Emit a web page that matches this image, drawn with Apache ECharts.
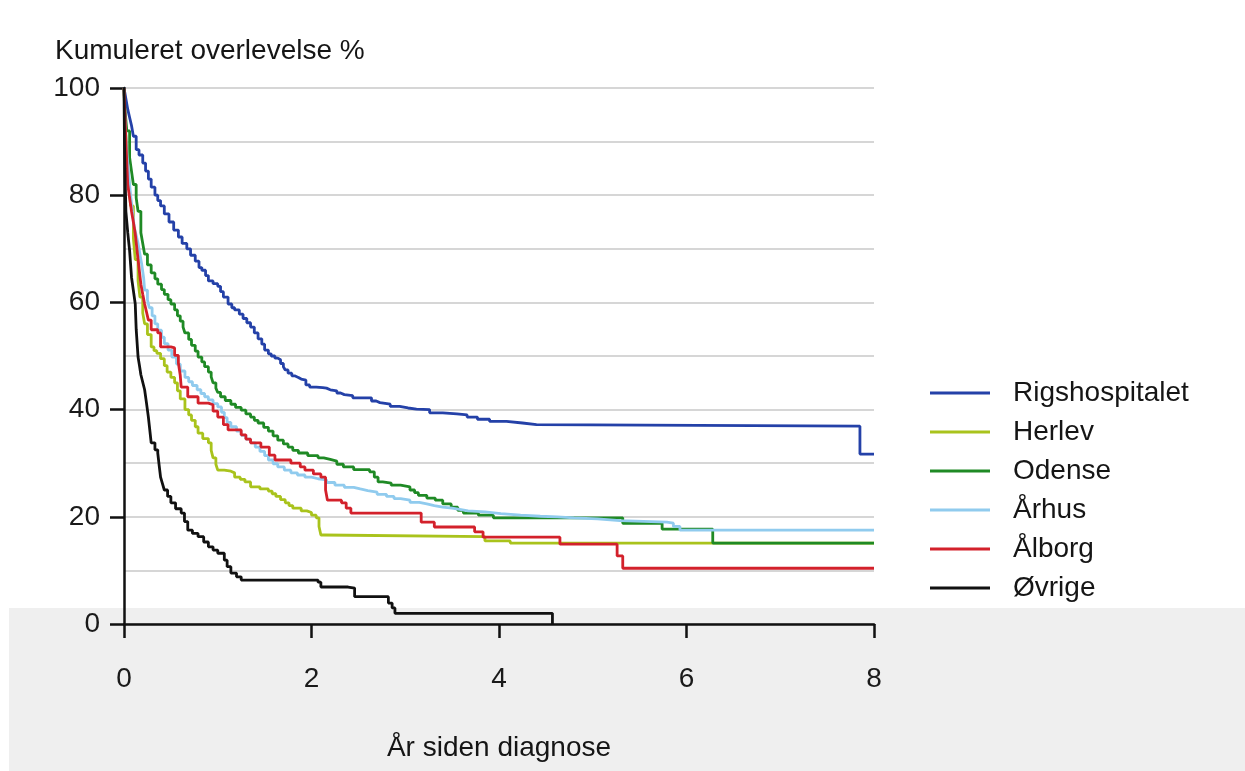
<!DOCTYPE html>
<html>
<head>
<meta charset="utf-8">
<script src="https://cdn.jsdelivr.net/npm/echarts@6/dist/echarts.min.js"></script>
<style>
  html, body { margin: 0; padding: 0; background: #ffffff; }
  #chart { width: 1245px; height: 771px; }
</style>
</head>
<body>
<div id="chart"></div>
<script>
// Kaplan–Meier survival per hospital: [years since diagnosis, cumulative survival %]
const seriesNames = ['Rigshospitalet', 'Herlev', 'Odense', 'Århus', 'Ålborg', 'Øvrige'];
const xTicks = [0, 2, 4, 6, 8];
const yTicks = [0, 20, 40, 60, 80, 100];

const rigshospitalet = [
  [0,100],[0.02,98],[0.04,96],[0.06,94.5],[0.08,93],[0.1,91],[0.13,88.5],[0.16,87.5],[0.2,86],
  [0.23,84.5],[0.26,83],[0.29,81.5],[0.33,80],[0.36,79],[0.39,78],[0.43,76.5],[0.48,75],[0.53,73.5],
  [0.58,72.2],[0.62,71],[0.67,70],[0.71,68.8],[0.76,67.7],[0.8,66.5],[0.83,66],[0.87,65],[0.9,64],
  [0.95,63.5],[1.0,63],[1.03,62],[1.06,61],[1.11,59.7],[1.15,59],[1.18,58.6],[1.23,57.8],[1.27,57],
  [1.31,56.2],[1.35,55.4],[1.39,54.3],[1.43,53.2],[1.47,52.2],[1.5,51.1],[1.54,50.4],[1.57,50],
  [1.61,49.6],[1.64,49.3],[1.67,48.6],[1.7,48],[1.72,47.4],[1.75,46.8],[1.79,46.3],[1.82,46],
  [1.86,45.7],[1.89,45.5],[1.94,44.6],[1.98,44.2],[2.05,44.1],[2.12,44],[2.16,43.7],[2.2,43.5],
  [2.27,43.1],[2.31,42.8],[2.35,42.6],[2.44,42.2],[2.64,41.6],[2.69,41.3],[2.73,41],[2.84,40.6],
  [2.94,40.3],[3.03,40.1],[3.12,40],[3.26,39.4],[3.4,39.2],[3.55,39],[3.66,38.6],[3.77,38.2],
  [3.9,37.8],[4.08,37.5],[4.25,37.2],[4.4,36.9],[7.85,31.7],[8,31.7]
];
const herlev = [
  [0,100],[0.01,94],[0.03,88],[0.05,83],[0.07,78],[0.1,72],[0.12,68],[0.15,64],[0.17,61],[0.2,58],
  [0.22,56],[0.25,54],[0.29,51.7],[0.32,51],[0.35,50.5],[0.39,49.5],[0.43,48.2],[0.46,47],[0.5,46],
  [0.54,45],[0.57,43.5],[0.6,42],[0.65,40],[0.69,39],[0.72,38],[0.76,36.8],[0.79,35.6],[0.84,34.6],
  [0.9,33.8],[0.93,32.4],[0.95,31],[0.98,29.8],[1.0,28.7],[1.07,28.5],[1.14,28.2],[1.18,27.4],
  [1.24,27],[1.29,26.5],[1.35,25.6],[1.45,25.2],[1.54,24.8],[1.58,24.3],[1.62,23.8],[1.67,23.2],
  [1.72,22.6],[1.76,22.1],[1.8,21.6],[1.89,21.1],[1.95,20.8],[2.0,20.3],[2.05,19.8],[2.08,18.2],
  [2.1,16.6],[2.13,16.3],[3.85,15.5],[4.12,15.1],[8,15.1]
];
const odense = [
  [0,100],[0.01,96],[0.03,92],[0.06,87],[0.08,84.5],[0.1,82],[0.13,79.5],[0.15,77],[0.18,73],
  [0.2,71],[0.22,69],[0.25,67],[0.29,65.5],[0.33,64.4],[0.36,63.4],[0.4,62.4],[0.43,61.5],
  [0.47,60.5],[0.5,59.7],[0.54,58.6],[0.57,57.5],[0.6,56.5],[0.63,55.4],[0.65,54.3],[0.69,53.1],
  [0.72,52],[0.76,50.9],[0.79,49.8],[0.83,48.9],[0.86,48],[0.9,47],[0.93,46.1],[0.95,45],[0.98,44],
  [1.0,43.2],[1.03,42.4],[1.08,41.7],[1.14,41],[1.19,40.4],[1.25,39.9],[1.3,39.2],[1.35,38.6],
  [1.39,38],[1.43,37.5],[1.49,36.7],[1.54,36],[1.59,35.1],[1.64,34.3],[1.7,33.6],[1.75,33],
  [1.8,32.4],[1.86,31.9],[1.96,31.4],[2.07,31],[2.13,30.7],[2.2,30.4],[2.27,29.8],[2.34,29.3],
  [2.45,28.8],[2.62,28.4],[2.67,27.4],[2.71,26.5],[2.76,26.3],[2.85,25.9],[2.95,25.6],[3.05,25],
  [3.1,24.5],[3.14,24],[3.23,23.5],[3.32,23.1],[3.4,22.4],[3.49,21.8],[3.56,21.2],[3.62,20.7],
  [3.78,20.3],[3.94,19.8],[5.32,18.8],[5.74,17.7],[6.28,15.1],[8,15.1]
];
const aarhus = [
  [0,100],[0.01,94],[0.03,88],[0.05,84],[0.07,80],[0.09,77],[0.11,74],[0.13,72.5],[0.15,71],
  [0.17,69],[0.19,67],[0.21,64.5],[0.22,62.3],[0.25,60.5],[0.27,59],[0.3,57.5],[0.33,56],
  [0.36,54.8],[0.4,53.5],[0.43,52.3],[0.47,51.1],[0.51,49.8],[0.56,48.5],[0.6,47.2],[0.65,46],
  [0.69,45.2],[0.73,44.5],[0.78,43.7],[0.82,43],[0.86,42.4],[0.9,41.8],[0.95,41.1],[1.0,40.5],
  [1.04,39.5],[1.07,38.5],[1.1,37.6],[1.14,36.8],[1.2,36],[1.25,35.2],[1.3,34.5],[1.35,33.8],
  [1.4,33],[1.45,32.2],[1.5,31.4],[1.54,30.6],[1.59,29.9],[1.64,29.3],[1.71,28.7],[1.78,28.2],
  [1.85,27.8],[1.93,27.4],[2.0,27.1],[2.07,26.9],[2.16,26.4],[2.25,25.9],[2.35,25.5],[2.45,25.2],
  [2.52,24.9],[2.6,24.6],[2.7,24.2],[2.8,23.8],[2.88,23.4],[2.95,23.1],[3.05,22.7],[3.15,22.4],
  [3.23,22.1],[3.31,21.8],[3.4,21.6],[3.5,21.4],[3.58,21.1],[3.67,20.9],[3.85,20.6],[4.02,20.3],
  [4.23,20.1],[4.44,20],[4.62,19.8],[4.8,19.6],[5.05,19.3],[5.29,19],[5.79,18.8],[5.86,18.2],
  [5.93,17.5],[8,17.5]
];
const aalborg = [
  [0,100],[0.01,95],[0.02,90],[0.03,86],[0.04,82],[0.06,79.5],[0.08,77],[0.1,75],[0.12,72.8],
  [0.135,70.4],[0.15,68],[0.165,65.7],[0.18,63.4],[0.2,61.5],[0.22,59.7],[0.24,58.2],[0.26,56.7],
  [0.29,54.9],[0.36,54.3],[0.39,51.7],[0.5,51.5],[0.54,50.1],[0.58,48.7],[0.6,46.4],[0.61,44.2],
  [0.68,42.4],[0.79,41.2],[0.9,40.9],[0.95,39.7],[1.0,38.6],[1.06,37.2],[1.11,36.2],[1.25,35.3],
  [1.3,34.5],[1.35,33.8],[1.46,33],[1.55,31.5],[1.61,30.6],[1.78,30],[1.88,29.3],[1.93,28.7],
  [2.02,28],[2.1,27.4],[2.15,25],[2.17,23.1],[2.32,22.6],[2.37,21.6],[2.42,20.7],[3.17,19],
  [3.31,18.1],[3.74,17.2],[3.83,16.2],[4.65,14.9],[5.26,12.7],[5.32,10.4],[8,10.4]
];
const oevrige = [
  [0,100],[0.005,90],[0.01,85],[0.015,81],[0.02,77],[0.03,75],[0.04,73],[0.05,71.3],[0.06,69.6],
  [0.07,67.2],[0.08,64.7],[0.1,62.2],[0.12,59.7],[0.13,55],[0.14,52.4],[0.15,49.8],[0.165,48.2],
  [0.18,46.5],[0.2,45.1],[0.22,43.7],[0.24,41.2],[0.26,38.6],[0.275,36.2],[0.29,33.8],[0.33,32.5],
  [0.36,31.9],[0.375,29.6],[0.39,27.4],[0.41,26.2],[0.43,25],[0.465,23.8],[0.5,22.6],[0.55,21.5],
  [0.61,20.7],[0.645,19.1],[0.68,17.5],[0.73,16.9],[0.79,16.3],[0.85,15.3],[0.9,14.4],[0.95,13.8],
  [1.0,13.2],[1.07,11.9],[1.1,10.7],[1.14,9.5],[1.2,8.8],[1.25,8.2],[2.07,7.8],[2.1,6.9],
  [2.39,6.7],[2.46,5.1],[2.82,3.9],[2.86,3.0],[2.89,2.0],[4.57,0]
];

const seriesData = [rigshospitalet, herlev, odense, aarhus, aalborg, oevrige];
const seriesColors = ['#2441a8', '#a9c31c', '#1f8a25', '#90cbee', '#d3212b', '#111111'];

const FONT = "'Liberation Sans', Arial, sans-serif";
const FS = 28;

const chart = echarts.init(document.getElementById('chart'), null, { renderer: 'canvas' });

chart.setOption({
  backgroundColor: '#ffffff',
  animation: false,
  title: {
    text: 'Kumuleret overlevelse %',
    left: 50,
    top: 32,
    textStyle: { fontFamily: FONT, fontSize: FS, fontWeight: 'normal', color: '#151515' }
  },
  graphic: {
    elements: [{
      type: 'rect',
      z: -100,
      left: 9,
      top: 608,
      shape: { width: 1236, height: 163 },
      style: { fill: '#efefef' },
      silent: true
    }]
  },
  legend: {
    orient: 'vertical',
    left: 925,
    top: 373,
    icon: 'rect',
    itemWidth: 60,
    itemHeight: 3,
    itemGap: 9,
    data: seriesNames,
    textStyle: {
      fontFamily: FONT, fontSize: FS, color: '#151515',
      lineHeight: 30, padding: [0, 0, 0, 18]
    }
  },
  grid: { left: 124, right: 371, top: 88, bottom: 147, containLabel: false, outerBoundsMode: 'none' },
  xAxis: {
    type: 'value',
    min: xTicks[0],
    max: xTicks[xTicks.length - 1],
    interval: 2,
    name: 'År siden diagnose',
    nameLocation: 'middle',
    nameGap: 110,
    nameTextStyle: { fontFamily: FONT, fontSize: FS, color: '#151515' },
    axisLine: { show: true, onZero: false, lineStyle: { color: '#111', width: 2.5 } },
    axisTick: { show: true, inside: false, length: 14, lineStyle: { color: '#111', width: 2.5 } },
    axisLabel: { margin: 41, fontFamily: FONT, fontSize: FS, color: '#1a1a1a' },
    splitLine: { show: false }
  },
  yAxis: {
    type: 'value',
    min: yTicks[0],
    max: yTicks[yTicks.length - 1],
    interval: 20,
    axisLine: { show: true, lineStyle: { color: '#111', width: 2.5 } },
    axisTick: { show: true, inside: false, length: 14, lineStyle: { color: '#111', width: 2.5 } },
    axisLabel: { margin: 24, fontFamily: FONT, fontSize: FS, color: '#1a1a1a' },
    splitLine: { show: true, lineStyle: { color: '#c9c9c9', width: 1.5 } },
    minorTick: { show: false, splitNumber: 2 },
    minorSplitLine: { show: true, lineStyle: { color: '#c9c9c9', width: 1.5 } }
  },
  series: seriesNames.map((name, i) => ({
    name: name,
    type: 'line',
    step: 'end',
    symbol: 'none',
    data: seriesData[i],
    color: seriesColors[i],
    lineStyle: { color: seriesColors[i], width: 2.8 },
    itemStyle: { color: seriesColors[i] },
    z: 2
  }))
});
</script>
</body>
</html>
